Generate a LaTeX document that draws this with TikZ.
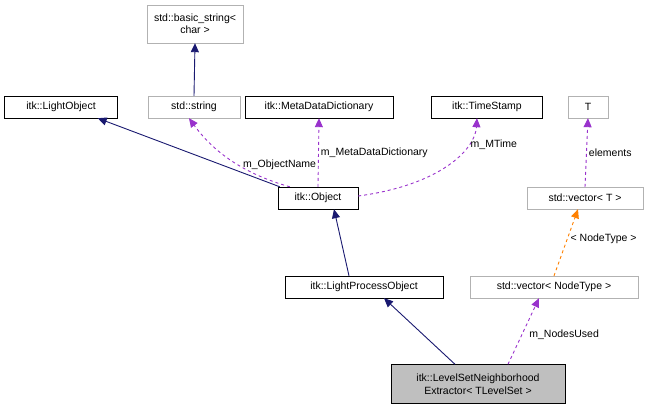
\documentclass[tikz,border=0pt]{standalone}
\usepackage{fontspec}
\setmainfont{Liberation Sans}
\usetikzlibrary{arrows.meta,calc}
\definecolor{navy}{RGB}{25,25,112}
\definecolor{purp}{RGB}{153,50,204}
\begin{document}
\begin{tikzpicture}[x=1pt,y=-1pt,
  box/.style={draw=black,fill=white,minimum height=22pt,inner sep=2pt,font=\fontsize{10.5}{12.5}\selectfont,align=center},
  gbox/.style={box,draw=gray!60},
  inh/.style={draw=navy,line width=0.9pt,-{Triangle[fill=navy,length=9pt,width=8pt]}},
  use/.style={draw=purp,dashed,line width=0.9pt,-{Triangle[fill=purp,length=9pt,width=8pt]}},
  inst/.style={draw=orange,dashed,line width=0.9pt,-{Triangle[fill=orange,length=9pt,width=8pt]}},
  lbl/.style={font=\fontsize{10.5}{12.5}\selectfont,inner sep=1pt}]
\path[use as bounding box] (0,0) rectangle (667,411);
\node[gbox,minimum width=96pt,minimum height=38pt] (bs) at (195,24) {std::basic\_string\textless\\char \textgreater};
\node[box,minimum width=113pt] (lo) at (61,107) {itk::LightObject};
\node[gbox,minimum width=92pt] (str) at (194,107) {std::string};
\node[box,minimum width=148pt] (mdd) at (319,107) {itk::MetaDataDictionary};
\node[box,minimum width=111pt] (ts) at (487,107) {itk::TimeStamp};
\node[gbox,minimum width=40pt] (t) at (588,107) {T};
\node[box,minimum width=80pt] (obj) at (318,198) {itk::Object};
\node[gbox,minimum width=116pt] (vt) at (585,198) {std::vector\textless{} T \textgreater};
\node[box,minimum width=158pt] (lpo) at (364,287) {itk::LightProcessObject};
\node[gbox,minimum width=168pt] (vn) at (554,287) {std::vector\textless{} NodeType \textgreater};
\node[box,fill=gray!50,minimum width=174pt,minimum height=39pt] (ex) at (478,384) {itk::LevelSetNeighborhood\\Extractor\textless{} TLevelSet \textgreater};
\draw[inh] (str.north) -- (bs.south);
\draw[inh] ($(obj.north west)+(2,0)$) -- ($(lo.south east)+(-20,0)$);
\draw[inh] ($(lpo.north)+(-15,0)$) -- ($(obj.south)+(16,0)$);
\draw[inh] ($(ex.north)+(-23,0)$) -- ($(lpo.south)+(20,0)$);
\draw[use] ($(obj.north west)+(12,0)$) .. controls (230,170) and (205,140) .. ($(str.south)+(-5,0)$) node[lbl,pos=0.35,right=3pt] {m\_ObjectName};
\draw[use] (obj.north) -- (mdd.south) node[lbl,midway,right=1pt,fill=white] {m\_MetaDataDictionary};
\draw[use] ($(obj.east)+(0,-2)$) .. controls (440,185) and (475,150) .. ($(ts.south)+(-10,0)$) node[lbl,pos=0.72,right=2pt] {m\_MTime};
\draw[use] (vt.north) -- (t.south) node[lbl,midway,right=1pt] {elements};
\draw[inst] (vn.north) -- ($(vt.south)+(-7,0)$) node[lbl,pos=0.55,right=2pt] {\textless{} NodeType \textgreater};
\draw[use] ($(ex.north)+(30,0)$) -- ($(vn.south)+(-15,0)$) node[lbl,pos=0.45,right=6pt] {m\_NodesUsed};
\end{tikzpicture}
\end{document}
